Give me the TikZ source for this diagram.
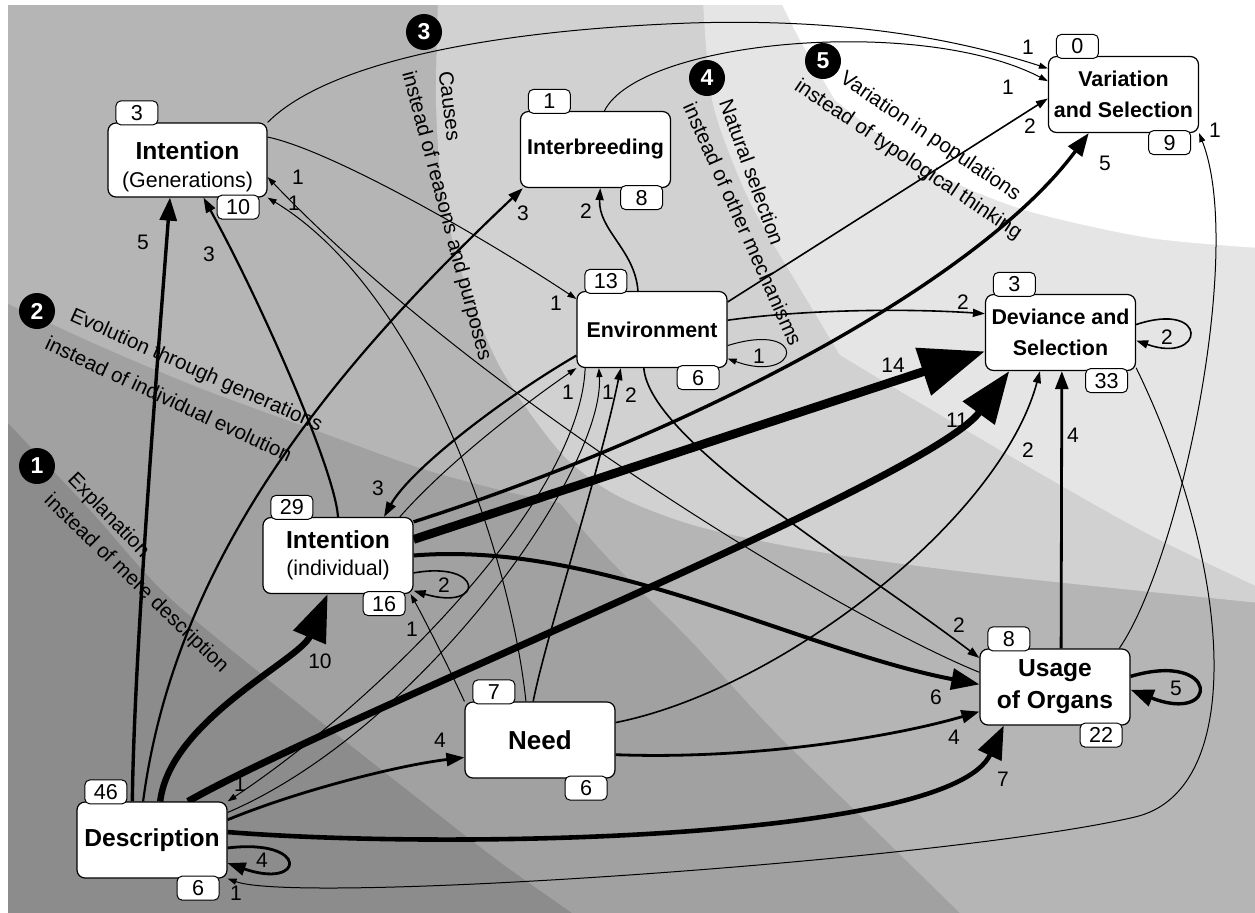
\documentclass[tikz,border=0pt]{standalone}
\usepackage{fontspec}
\setmainfont{Liberation Sans}
\usetikzlibrary{arrows.meta,positioning}

\pgfdeclarelayer{zones}
\pgfdeclarelayer{edges}
\pgfsetlayers{zones,edges,main}

\definecolor{zoneA}{gray}{0.55}
\definecolor{zoneB}{gray}{0.63}
\definecolor{zoneC}{gray}{0.71}
\definecolor{zoneD}{gray}{0.82}
\definecolor{zoneE}{gray}{0.90}

\newcommand\bigname{\fontsize{12.3}{14}\selectfont\bfseries}
\newcommand\midname{\fontsize{10.7}{15.5}\selectfont\bfseries}
% out-count above left, in-count below right
\newcommand\nodecounts[3]{%
  \node[badge] (#1-out) at ([xshift=14.75pt,yshift=4.75pt]#1.north west) {#2};
  \node[badge] (#1-in) at ([xshift=-14.75pt,yshift=-4.75pt]#1.south east) {#3};}

\begin{document}
\begin{tikzpicture}[x=0.5pt, y=-0.5pt,
    box/.style={draw, fill=white, rounded corners=4pt, line width=0.6pt, align=center, inner sep=0pt, minimum width=75pt, minimum height=38pt},
    badge/.style={draw, fill=white, rounded corners=2.5pt, line width=0.5pt, inner sep=0pt, minimum width=21pt, minimum height=12pt, font=\fontsize{10.8}{12}\selectfont},
    zonemark/.style={circle, fill=black, text=white, inner sep=0pt, minimum size=18pt, font=\fontsize{11.5}{12}\selectfont\bfseries},
    zonetext/.style={inner sep=0pt, font=\fontsize{10.3}{12}\selectfont},
    elab/.style={inner sep=0pt, font=\fontsize{10.5}{12}\selectfont},
    e1/.style={line width=0.5pt, -{Triangle[length=4.5pt,width=3pt]}},
    e2/.style={line width=0.8pt, -{Triangle[length=6pt,width=4pt]}},
    e3/.style={line width=1.1pt, -{Triangle[length=7.5pt,width=5pt]}},
    e4/.style={line width=1.4pt, -{Triangle[length=9pt,width=6.5pt]}},
    e5/.style={line width=1.7pt, -{Triangle[length=11.5pt,width=8.5pt]}},
    e6/.style={line width=2pt, -{Triangle[length=14pt,width=10.5pt]}},
    e7/.style={line width=2.3pt, -{Triangle[length=16.5pt,width=12.5pt]}},
    e10/.style={line width=3.2pt, -{Triangle[length=23.5pt,width=17pt]}},
    e11/.style={line width=3.5pt, -{Triangle[length=26pt,width=19pt]}},
    e14/.style={line width=4.4pt, -{Triangle[length=32.5pt,width=24pt]}},
  ]
  \useasboundingbox (0,0) rectangle (1255,912);

  % background zones
  \begin{pgfonlayer}{zones}
    \fill[white] (0,0) rectangle (1255,912);
    \begin{scope}
      \clip (8,5) rectangle (1255,912);
      \fill[zoneA] (0,0) rectangle (1260,920);
      \fill[zoneB] plot[smooth] coordinates {(0,415) (8,423) (90,510) (170,598) (300,705) (420,800) (500,862) (575,915)}
        -- (1260,920) -- (1260,0) -- (0,0) -- cycle;
      \fill[zoneC] plot[smooth] coordinates {(0,300) (100,346) (200,388) (323,433) (420,468) (500,490) (560,503)}
        -- plot[smooth] coordinates {(560,503) (608,558) (690,640) (773,730) (870,825) (962,915)}
        -- (1260,920) -- (1260,0) -- (0,0) -- cycle;
      \fill[zoneD] plot[smooth] coordinates {(438,0) (436,100) (441,180) (455,250) (475,310) (500,367) (535,420) (570,462) (620,497) (700,527) (826,553) (1000,576) (1260,603)}
        -- (1260,0) -- cycle;
      \fill[zoneE] plot[smooth] coordinates {(703,0) (712,100) (740,180) (765,230) (795,280) (840,355)}
        -- plot[smooth] coordinates {(840,355) (915,400) (1048,478) (1150,535) (1260,588)}
        -- (1260,0) -- cycle;
      \fill[white] plot[smooth] coordinates {(780,0) (800,40) (835,100)}
        -- plot[smooth] coordinates {(835,100) (900,150) (960,185) (1035,213) (1150,238) (1260,248)}
        -- (1260,0) -- cycle;
    \end{scope}
  \end{pgfonlayer}

  % concepts
  \node[box] (desc) at (152,840) {\bigname Description};
  \node[box, minimum width=79.5pt, minimum height=37pt, font=\fontsize{10.7}{14}\selectfont] (intgen) at (187.5,160) {\rule{0pt}{16pt}{\bigname Intention}\\(Generations)};
  \node[box, font=\midname] (inbr) at (595.5,149.5) {Interbreeding};
  \node[box, font=\midname] (varsel) at (1123.5,94.5) {Variation\\and Selection};
  \node[box, font=\midname] (envir) at (652,329.5) {Environment};
  \node[box, font=\midname] (devsel) at (1060.5,332.5) {Deviance and\\Selection};
  \node[box, font=\fontsize{10.7}{13.5}\selectfont] (intind) at (338,555.5) {{\bigname Intention}\\(individual)};
  \node[box, font=\fontsize{13}{15}\selectfont\bfseries] (need) at (540,740) {Need};
  \node[box, font=\fontsize{12.3}{16}\selectfont\bfseries] (usage) at (1055,687) {Usage\\of Organs};

  \nodecounts{desc}{46}{6}
  \nodecounts{intgen}{3}{10}
  \nodecounts{inbr}{1}{8}
  \nodecounts{varsel}{0}{9}
  \nodecounts{envir}{13}{6}
  \nodecounts{devsel}{3}{33}
  \nodecounts{intind}{29}{16}
  \nodecounts{need}{7}{6}
  \nodecounts{usage}{8}{22}

  % connections
  \begin{pgfonlayer}{edges}
    \draw[e5] (desc.117) .. controls (134,650) and (160,330) .. (intgen.-115);
    \draw[e3] (desc.103) .. controls (175,560) and (330,370) .. (inbr.-152);
    \draw[e10] (desc.78) .. controls (170,720) and (300,660) .. (intind.-105);
    \draw[e11] (desc.47) .. controls (330,720) and (930,480) .. (devsel.-143);
    \draw[e4] (desc.15) .. controls (300,790) and (400,765) .. (need.-167);
    \draw[e7] (desc.6) .. controls (450,850) and (950,840) .. (usage.-143);
    \draw[e4] (desc.-6) .. controls (310,838) and (305,890) .. (desc.-17);
    \draw[e1] (desc.20) .. controls (420,730) and (605,470) .. (envir.-144);

    \draw[e1] (intgen.16) .. controls (330,150) and (480,235) .. (envir.158);
    \draw[e1] (intgen.north east) .. controls (330,60) and (500,30) .. (690,23) .. controls (850,18) and (960,40) .. (varsel.161);

    \draw[e1] (inbr.77) .. controls (640,40) and (920,15) .. (varsel.170);

    \draw[e3] (envir.-161) .. controls (500,400) and (410,470) .. (intind.40);
    \draw[e1] (envir.-150) .. controls (580,500) and (380,700) .. (desc.north east);
    \draw[e2] (envir.-102) .. controls (650,440) and (850,560) .. (usage.159);
    \draw[e2] (envir.110) .. controls (635,250) and (598,230) .. (inbr.-83);
    \draw[e2] (envir.20) -- (varsel.-177);
    \draw[e2] (envir.7) .. controls (800,310) and (900,308) .. (devsel.166);
    \draw[e1] (envir.-12) .. controls (810,320) and (800,385) .. (envir.-21);

    \draw[e1] (devsel.-25) .. controls (1230,560) and (1250,790) .. (1135,817) .. controls (951,860) and (300,905) .. (desc.south east);
    \draw[e2] (devsel.6) .. controls (1210,300) and (1205,365) .. (devsel.-6);

    \draw[e3] (intind.north) .. controls (335,470) and (260,300) .. (intgen.-67);
    \draw[e1] (intind.32) .. controls (450,460) and (530,400) .. (envir.south west);
    \draw[e5] (intind.24) .. controls (700,430) and (980,280) .. (varsel.-132);
    \draw[e14] (intind.12) -- (devsel.-166);
    \draw[e6] (intind.east) .. controls (600,540) and (800,650) .. (usage.178);
    \draw[e2] (intind.-13) .. controls (485,560) and (485,612) .. (intind.-25);

    \draw[e2] (need.100) .. controls (545,640) and (600,470) .. (envir.-129);
    \draw[e1] (need.110) .. controls (510,550) and (420,290) .. (intgen.south east);
    \draw[e1] (need.north west) .. controls (450,670) and (425,620) .. (intind.-28);
    \draw[e2] (need.13) .. controls (780,690) and (1000,520) .. (devsel.-118);
    \draw[e4] (need.-11) .. controls (760,760) and (900,735) .. (usage.-162);

    \draw[e4] (usage.81) -- (devsel.-88);
    \draw[e5] (usage.8) .. controls (1220,650) and (1220,725) .. (usage.-2);
    \draw[e1] (usage.31) .. controls (1180,560) and (1245,250) .. (varsel.south east);
    \draw[e1] (usage.169) .. controls (850,620) and (480,400) .. (intgen.-12);
  \end{pgfonlayer}

  % weights
  \node[elab] (w-d-ig) at (143,242) {5};
  \node[elab] (w-d-ib) at (523,213) {3};
  \node[elab] (w-d-ii) at (320,661) {10};
  \node[elab] (w-d-ds) at (957,420) {11};
  \node[elab] (w-d-ne) at (440,740) {4};
  \node[elab] (w-d-uo) at (1003,779) {7};
  \node[elab] (w-d-d) at (262,860) {4};
  \node[elab] (w-d-en) at (608,392) {1};
  \node[elab] (w-ig-en) at (556,303) {1};
  \node[elab] (w-ig-vs) at (1028,47) {1};
  \node[elab] (w-ib-vs) at (1008,87) {1};
  \node[elab] (w-en-ii) at (378,488) {3};
  \node[elab] (w-en-d) at (240,784) {1};
  \node[elab] (w-en-uo) at (959,625) {2};
  \node[elab] (w-en-ib) at (586,211) {2};
  \node[elab] (w-en-vs) at (1030,126) {2};
  \node[elab] (w-en-ds) at (963,302) {2};
  \node[elab] (w-en-en) at (759,356) {1};
  \node[elab] (w-ds-d) at (236,893) {1};
  \node[elab] (w-ds-ds) at (1167,337) {2};
  \node[elab] (w-ii-ig) at (209,254) {3};
  \node[elab] (w-ii-en) at (568,392) {1};
  \node[elab] (w-ii-vs) at (1105,163) {5};
  \node[elab] (w-ii-ds) at (893,365) {14};
  \node[elab] (w-ii-uo) at (936,697) {6};
  \node[elab] (w-ii-ii) at (444,585) {2};
  \node[elab] (w-ne-en) at (631,395) {2};
  \node[elab] (w-ne-ig) at (294,203) {1};
  \node[elab] (w-ne-ii) at (412,629) {1};
  \node[elab] (w-ne-ds) at (1028,450) {2};
  \node[elab] (w-ne-uo) at (954,737) {4};
  \node[elab] (w-uo-ds) at (1073,435) {4};
  \node[elab] (w-uo-uo) at (1176,688) {5};
  \node[elab] (w-uo-vs) at (1215,130) {1};
  \node[elab] (w-uo-ig) at (298,177) {1};

  % paradigm shifts
  \node[zonemark] (z1) at (37,466) {1};
  \node[zonemark] (z2) at (37,311) {2};
  \node[zonemark] (z3) at (424,32) {3};
  \node[zonemark] (z4) at (707,78) {4};
  \node[zonemark] (z5) at (823,61) {5};
  \node[zonetext, rotate=-46] (z1a) at (108,516) {Explanation};
  \node[zonetext, rotate=-44] (z1b) at (136,584) {instead of mere description};
  \node[zonetext, rotate=-24] (z2a) at (196,371) {Evolution through generations};
  \node[zonetext, rotate=-25] (z2b) at (169,399) {instead of individual evolution};
  \node[zonetext, rotate=-83] (z3a) at (450,106) {Causes};
  \node[zonetext, rotate=-75] (z3b) at (446,216) {instead of reasons and purposes};
  \node[zonetext, rotate=-70] (z4a) at (752,172) {Natural selection};
  \node[zonetext, rotate=-66] (z4b) at (743,224) {instead of other mechanisms};
  \node[zonetext, rotate=-34] (z5a) at (930,137) {Variation in populations};
  \node[zonetext, rotate=-34] (z5b) at (908,160) {instead of typological thinking};
\end{tikzpicture}
\end{document}
